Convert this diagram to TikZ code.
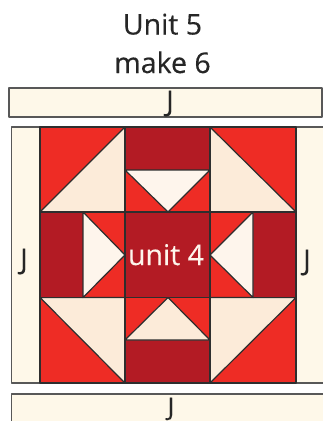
\documentclass[tikz,border=0pt]{standalone}
\usepackage{fontspec}
\setmainfont[FakeBold=0.25]{Open Sans}
\definecolor{quiltred}{HTML}{EE2C25}
\definecolor{quiltdark}{HTML}{B31B24}
\definecolor{quiltcream}{HTML}{FEF8E9}
\definecolor{quiltpeach}{HTML}{FCEBD9}
\definecolor{quiltpale}{HTML}{FEF5EC}
\definecolor{quiltline}{HTML}{2E2E2E}
\tikzstyle{patch} = [draw=quiltline, line width=1.2pt, line join=round]
\tikzstyle{band} = [patch, draw=quiltline!80, fill=quiltcream, line width=1.4pt]
\tikzstyle{lbl} = [anchor=base, inner sep=0pt, font=\fontsize{28.5}{28.5}\selectfont, text=black!85]

\begin{document}
\begin{tikzpicture}[x=1pt,y=-1pt]
\useasboundingbox (0,0) rectangle (323,421);
\fill[white] (0,0) rectangle (323,421);
% strips
\draw[band] (9,88) rectangle (322,117);
\draw[band] (11.5,127) rectangle (330,383);
\draw[band] (11.5,394) rectangle (330,430);
% corners
\fill[quiltred] (40,127) rectangle (296,383);
\draw[patch,fill=quiltpeach] (40,212)--(125,127)--(125,212)--cycle;
\draw[patch,fill=quiltpeach] (296,212)--(210,127)--(210,212)--cycle;
\draw[patch,fill=quiltpeach] (40,297.5)--(125,383)--(125,297.5)--cycle;
\draw[patch,fill=quiltpeach] (296,297.5)--(210,383)--(210,297.5)--cycle;
% dark bars
\fill[quiltdark] (125,127) rectangle (210,170);
\fill[quiltdark] (125,340) rectangle (210,383);
\fill[quiltdark] (40,212) rectangle (83,297.5);
\fill[quiltdark] (253,212) rectangle (296,297.5);
\fill[quiltdark] (125,212) rectangle (210,297.5);
% small triangles
\draw[patch,fill=quiltpale] (125,170)--(210,170)--(168,212)--cycle;
\draw[patch,fill=quiltpeach] (125,340)--(210,340)--(168,297.5)--cycle;
\draw[patch,fill=quiltpale] (83,212)--(83,297.5)--(125,255)--cycle;
\draw[patch,fill=quiltpale] (253,212)--(253,297.5)--(210,255)--cycle;
% seams
\draw[patch] (40,127) rectangle (296,383);
\draw[patch] (125,127)--(125,383);
\draw[patch] (210,127)--(210,383);
\draw[patch] (40,212)--(296,212);
\draw[patch] (40,297.5)--(296,297.5);
% labels
\node[lbl] (title) at (162.5,34.5) {Unit 5};
\node[lbl] (make) at (162.5,73) {make 6};
\node[lbl] (jtop) at (170,111) {J};
\node[lbl] (jleft) at (24,269) {J};
\node[lbl] (jright) at (307,270) {J};
\node[lbl,font=\fontsize{25}{25}\selectfont] (jbottom) at (171,415.5) {J};
\node[lbl,text=quiltpale] (unit) at (166,265) {unit 4};
\end{tikzpicture}
\end{document}
